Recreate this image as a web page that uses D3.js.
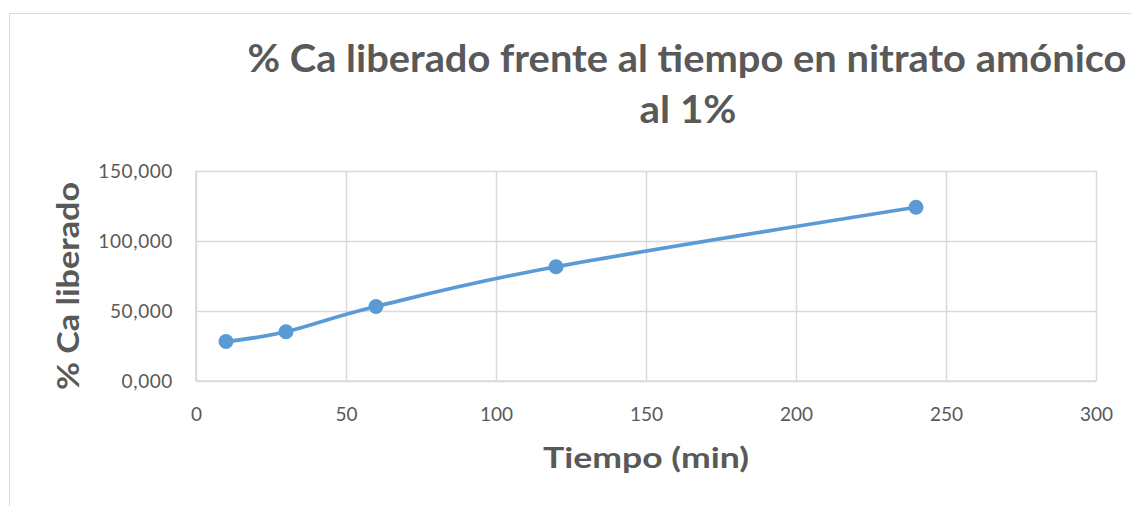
<!DOCTYPE html>
<html>
<head>
<meta charset="utf-8">
<script src="https://cdn.jsdelivr.net/npm/d3@7"></script>
<style>
  html, body { margin: 0; padding: 0; background: #fff; }
  svg { display: block; }
</style>
</head>
<body>
<svg id="chart" width="1131" height="506"></svg>
<script>
// Series: time (min) vs % Ca released
const tiempo = [10, 30, 60, 120, 240];
const caLiberado = [28.2, 35.2, 53.2, 81.6, 124.1];
const xTicks = [0, 50, 100, 150, 200, 250, 300];
const yTicks = [0, 50, 100, 150];
const yTickLabels = ["0,000", "50,000", "100,000", "150,000"];
const titleLines = ["% Ca liberado frente al tiempo en nitrato amónico", "al 1%"];
const xLabel = "Tiempo (min)";
const yLabel = "% Ca liberado";

const svg = d3.select("#chart");
const W = 1131, H = 506;
const plot = { left: 196, right: 1096, top: 171, bottom: 381 };
const grey = "#595959";
const gridCol = "#d9d9d9";
const font = "Lato, 'Open Sans', sans-serif";

// chart frame
svg.append("path")
  .attr("d", `M9.5,${H} V13.5 H${W}`)
  .attr("fill", "none").attr("stroke", gridCol).attr("stroke-width", 1);

const x = d3.scaleLinear().domain([0, 300]).range([plot.left, plot.right]);
const y = d3.scaleLinear().domain([0, 150]).range([plot.bottom, plot.top]);

// gridlines + tick labels
const xAxis = d3.axisBottom(x).tickValues(xTicks).tickSize(-(plot.bottom - plot.top)).tickFormat(d => d);
const yAxis = d3.axisLeft(y).tickValues(yTicks).tickSize(-(plot.right - plot.left))
  .tickFormat((d, i) => yTickLabels[i]);

const gx = svg.append("g").attr("transform", `translate(0,${plot.bottom})`).call(xAxis);
const gy = svg.append("g").attr("transform", `translate(${plot.left},0)`).call(yAxis);
[gx, gy].forEach(g => {
  g.select(".domain").remove();
  g.selectAll(".tick line").attr("stroke", gridCol).attr("stroke-width", 1.5);
  g.selectAll(".tick text").attr("fill", grey).attr("font-family", font).attr("font-size", 19);
});
gx.selectAll(".tick text").attr("dy", 0).attr("y", 40);
gy.selectAll(".tick text").attr("x", -23).attr("dy", "0.35em").attr("letter-spacing", 0.6);

// axis lines
svg.append("line").attr("x1", plot.left).attr("x2", plot.right).attr("y1", plot.bottom).attr("y2", plot.bottom)
  .attr("stroke", gridCol).attr("stroke-width", 1.5);
svg.append("line").attr("x1", plot.left).attr("x2", plot.left).attr("y1", plot.top).attr("y2", plot.bottom)
  .attr("stroke", gridCol).attr("stroke-width", 1.5);

// series
const pts = tiempo.map((t, i) => [t, caLiberado[i]]);
const line = d3.line().x(d => x(d[0])).y(d => y(d[1])).curve(d3.curveCatmullRom.alpha(0));
svg.append("path").datum(pts).attr("d", line)
  .attr("fill", "none").attr("stroke", "#5b9bd5").attr("stroke-width", 3.75).attr("stroke-linecap", "round");
svg.selectAll("circle.pt").data(pts).join("circle").attr("class", "pt")
  .attr("cx", d => x(d[0])).attr("cy", d => y(d[1])).attr("r", 7.5).attr("fill", "#5b9bd5");

// title
const titleSpec = [{ cx: 687, y: 72, len: 879 }, { cx: 688, y: 123, len: 97 }];
titleLines.forEach((t, i) => {
  svg.append("text").text(t)
    .attr("x", titleSpec[i].cx).attr("y", titleSpec[i].y)
    .attr("text-anchor", "middle").attr("font-family", font).attr("font-weight", "bold")
    .attr("font-size", 38).attr("fill", grey)
    .attr("textLength", titleSpec[i].len).attr("lengthAdjust", "spacingAndGlyphs");
});

// axis titles
svg.append("text").text(xLabel)
  .attr("x", 646).attr("y", 468).attr("text-anchor", "middle")
  .attr("font-family", font).attr("font-weight", "bold").attr("font-size", 29).attr("fill", grey)
  .attr("textLength", 206).attr("lengthAdjust", "spacingAndGlyphs");
svg.append("text").text(yLabel)
  .attr("transform", "translate(79,286) rotate(-90)").attr("text-anchor", "middle")
  .attr("font-family", font).attr("font-weight", "bold").attr("font-size", 31).attr("fill", grey)
  .attr("textLength", 208).attr("lengthAdjust", "spacingAndGlyphs");
</script>
</body>
</html>
